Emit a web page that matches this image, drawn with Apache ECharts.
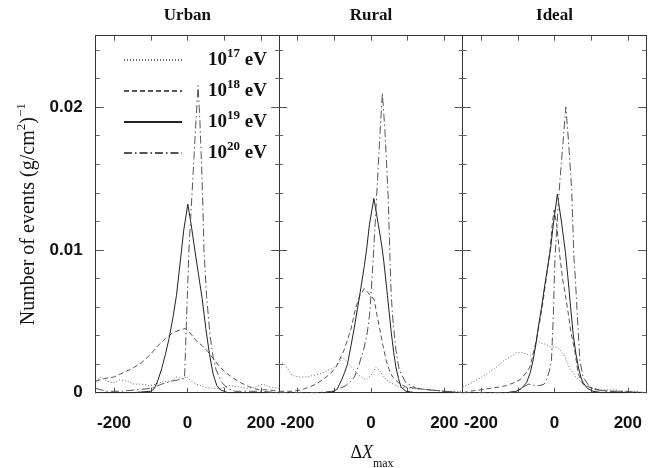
<!DOCTYPE html>
<html><head><meta charset="utf-8">
<script src="https://cdn.jsdelivr.net/npm/echarts@6/dist/echarts.min.js"></script>
<style>html,body{margin:0;padding:0;background:#fff}#c{width:654px;height:468px}</style>
</head><body><div id="c"></div>
<script>
// ---------- data ----------
const panels = ['Urban', 'Rural', 'Ideal'];
const energies = ['17', '18', '19', '20'];
const xTickLabels = [-200, 0, 200];
const xTicks = [-200, -100, 0, 100, 200];
const yTickLabels = [0, 0.01, 0.02];
const yMinorTicks = [0.002, 0.004, 0.006, 0.008, 0.012, 0.014, 0.016, 0.018, 0.022, 0.024];

const urban17 = [[-250,0.0008],[-235,0.0011],[-220,0.0008],[-200,0.0007],[-185,0.0009],[-165,0.0008],[-145,0.0006],[-125,0.0006],[-105,0.0005],[-85,0.0006],[-65,0.0008],[-45,0.0008],[-30,0.0011],[-15,0.0010],[0,0.0011],[10,0.0008],[25,0.0006],[45,0.0004],[65,0.0003],[90,0.0003],[115,0.0005],[140,0.0004],[165,0.0003],[185,0.0004],[205,0.0006],[225,0.0004],[250,0.0003]];
const urban18 = [[-250,0.0008],[-225,0.0010],[-200,0.0011],[-175,0.0014],[-150,0.0017],[-125,0.0021],[-100,0.0027],[-80,0.0033],[-60,0.0038],[-40,0.0042],[-20,0.0044],[-5,0.0045],[10,0.0041],[25,0.0036],[40,0.0033],[55,0.0029],[70,0.0024],[85,0.0019],[100,0.0015],[120,0.0011],[145,0.0007],[170,0.0004],[195,0.0002],[220,0.0002],[250,0.0001]];
const urban19 = [[-250,0],[-150,0],[-100,0.0001],[-90,0.0003],[-80,0.0009],[-70,0.0017],[-60,0.0027],[-50,0.0038],[-40,0.0052],[-30,0.0068],[-20,0.0091],[-10,0.0114],[1,0.0132],[10,0.0118],[20,0.0100],[30,0.0083],[40,0.0066],[50,0.0045],[60,0.0027],[70,0.0013],[80,0.0005],[90,0.0002],[110,0],[250,0]];
const urban20 = [[-250,0.0003],[-220,0.0001],[-180,0.0001],[-140,0.0002],[-100,0.0003],[-70,0.0006],[-45,0.0008],[-25,0.0009],[-8,0.0010],[-2,0.0055],[4,0.0100],[10,0.0128],[16,0.0156],[22,0.0185],[29,0.0215],[34,0.0190],[39,0.0156],[42,0.0130],[45,0.0100],[52,0.0068],[62,0.0039],[70,0.0025],[78,0.0016],[94,0.0007],[110,0.0003],[130,0.0001],[200,0.0001],[250,0]];

const rural17 = [[-250,0.0020],[-240,0.0021],[-228,0.0017],[-214,0.0012],[-195,0.0011],[-177,0.0011],[-160,0.0012],[-141,0.0013],[-123,0.0015],[-105,0.0017],[-90,0.0020],[-77,0.0025],[-63,0.0021],[-50,0.0017],[-32,0.0012],[-14,0.0009],[0,0.0012],[14,0.0018],[25,0.0015],[41,0.0009],[60,0.0006],[77,0.0004],[110,0.0003],[159,0.0002],[200,0.0001],[250,0.0001]];
const rural18 = [[-250,0.0001],[-214,0.0001],[-190,0.0002],[-168,0.0004],[-150,0.0006],[-132,0.0009],[-112,0.0013],[-95,0.0018],[-84,0.0024],[-73,0.0030],[-64,0.0037],[-55,0.0044],[-48,0.0052],[-41,0.0060],[-30,0.0068],[-18,0.0073],[-8,0.0070],[0,0.0068],[9,0.0065],[16,0.0055],[23,0.0046],[32,0.0034],[41,0.0023],[50,0.0016],[59,0.0011],[75,0.0007],[95,0.0004],[125,0.0003],[159,0.0002],[200,0.0001],[250,0]];
const rural19 = [[-250,0],[-120,0],[-100,0.0001],[-91,0.0003],[-80,0.0009],[-72,0.0014],[-64,0.0020],[-55,0.0032],[-45,0.0046],[-36,0.0060],[-27,0.0074],[-18,0.0089],[-12,0.0100],[-4,0.0118],[8,0.0136],[20,0.0118],[30,0.0102],[35,0.0092],[45,0.0068],[55,0.0043],[62,0.0028],[68,0.0018],[75,0.0010],[82,0.0004],[95,0.0001],[120,0],[250,0]];
const rural20 = [[-250,0],[-150,0],[-105,0.0001],[-85,0.0003],[-68,0.0005],[-55,0.0008],[-45,0.0011],[-32,0.0020],[-18,0.0032],[-10,0.0042],[-4,0.0054],[0,0.0068],[6,0.0093],[12,0.0121],[18,0.0150],[24,0.0178],[31,0.0210],[38,0.0184],[47,0.0137],[52,0.0093],[55,0.0070],[59,0.0053],[68,0.0030],[77,0.0016],[95,0.0007],[125,0.0003],[159,0.0002],[200,0.0001],[250,0]];

const ideal17 = [[-250,0.0004],[-225,0.0007],[-204,0.0010],[-180,0.0014],[-158,0.0018],[-140,0.0022],[-122,0.0025],[-105,0.0028],[-90,0.0028],[-75,0.0027],[-62,0.0026],[-54,0.0030],[-48,0.0037],[-38,0.0035],[-25,0.0034],[-10,0.0032],[3,0.0032],[12,0.0031],[25,0.0027],[40,0.0018],[55,0.0012],[70,0.0008],[90,0.0004],[125,0.0002],[160,0.0002],[190,0.0001],[220,0.0001],[250,0]];
const ideal18 = [[-250,0],[-231,0.0001],[-200,0.0002],[-176,0.0003],[-150,0.0004],[-131,0.0005],[-110,0.0007],[-94,0.0009],[-80,0.0013],[-67,0.0018],[-58,0.0027],[-49,0.0037],[-40,0.0050],[-31,0.0064],[-24,0.0077],[-17,0.0090],[-12,0.0100],[-6,0.0118],[-1,0.0128],[6,0.0118],[15,0.0095],[22,0.0080],[30,0.0068],[38,0.0055],[45,0.0042],[55,0.0030],[65,0.0013],[78,0.0006],[95,0.0004],[115,0.0002],[150,0.0001],[250,0]];
const ideal19 = [[-250,0],[-130,0],[-104,0.0001],[-90,0.0003],[-76,0.0007],[-66,0.0014],[-58,0.0023],[-50,0.0035],[-45,0.0044],[-35,0.0060],[-26,0.0076],[-18,0.0089],[-11,0.0100],[-4,0.0116],[8,0.0139],[20,0.0118],[30,0.0098],[37,0.0080],[44,0.0060],[51,0.0041],[58,0.0028],[65,0.0018],[72,0.0011],[78,0.0007],[90,0.0003],[105,0.0001],[130,0],[250,0]];
const ideal20 = [[-250,0],[-130,0],[-100,0.0001],[-85,0.0004],[-70,0.0006],[-55,0.0005],[-40,0.0005],[-28,0.0006],[-22,0.0009],[-14,0.0015],[-8,0.0023],[-3,0.0055],[1.5,0.0095],[13,0.0142],[22,0.0171],[31,0.0200],[38,0.0177],[47,0.0142],[53,0.0095],[57,0.0080],[60,0.0065],[65,0.0042],[69,0.0023],[78,0.0011],[96,0.0004],[133,0.0001],[180,0.0001],[250,0]];

const panelSeries = [
  [urban17, urban18, urban19, urban20],
  [rural17, rural18, rural19, rural20],
  [ideal17, ideal18, ideal19, ideal20]
];

// ---------- layout / style ----------
const gridLeft = [95.7, 279.2, 462.7];
const gridW = 183.5, gridTop = 35.7, gridH = 357;
const styles = [
  {type: [1, 2], color: '#6a6a6a'},
  {type: [5, 3], color: '#555'},
  {type: 'solid', color: '#222'},
  {type: [8, 3, 1.5, 3], color: '#555'}
];
const serif = 'Liberation Serif';
const sans = 'Liberation Sans';
const axisColor = '#333';
const nameOf = e => '10^' + e + ' eV';

const grid = [], xAxis = [], yAxis = [], series = [];
panels.forEach((p, i) => {
  grid.push({left: gridLeft[i], top: gridTop, width: gridW, height: gridH, containLabel: false});
  const xBase = {gridIndex: i, type: 'value', min: -250, max: 250, splitLine: {show: false},
    axisLine: {show: true, onZero: false, lineStyle: {color: axisColor, width: 1}}};
  xAxis.push(Object.assign({}, xBase, {position: 'bottom',
    axisTick: {inside: true, length: 5, customValues: xTicks, lineStyle: {color: '#555'}},
    axisLabel: {customValues: xTickLabels, margin: 22, fontFamily: sans, fontWeight: 'bold', fontSize: 17, color: '#111'}}));
  xAxis.push(Object.assign({}, xBase, {position: 'top',
    axisTick: {inside: true, length: 5, customValues: xTicks, lineStyle: {color: '#555'}},
    axisLabel: {show: false}}));
  const yBase = {gridIndex: i, type: 'value', min: 0, max: 0.025, splitLine: {show: false},
    axisLine: {show: true, onZero: false, lineStyle: {color: axisColor, width: 1}}};
  ['left', 'right'].forEach(pos => {
    const major = Object.assign({}, yBase, {position: pos,
      axisTick: {inside: true, length: 8, customValues: yTickLabels, lineStyle: {color: '#555'}},
      axisLabel: (i === 0 && pos === 'left') ?
        {customValues: yTickLabels, margin: 13, fontFamily: sans, fontWeight: 'bold', fontSize: 17, color: '#111'} :
        {show: false}});
    if (i === 0 && pos === 'left') {
      major.name = '{t|Number of events (g/cm}{s|2}{t|)}{s|\u22121}';
      major.nameLocation = 'middle';
      major.nameRotate = 90;
      major.nameGap = 53;
      major.nameTextStyle = {rich: {
        t: {fontFamily: serif, fontSize: 20, color: '#111', lineHeight: 28},
        s: {fontFamily: serif, fontSize: 13, color: '#111', verticalAlign: 'top', lineHeight: 14}
      }};
    }
    yAxis.push(major);
    yAxis.push(Object.assign({}, yBase, {position: pos,
      axisTick: {inside: true, length: 4, customValues: yMinorTicks, lineStyle: {color: '#666'}},
      axisLabel: {show: false}}));
  });
  panelSeries[i].forEach((d, k) => {
    series.push({type: 'line', name: nameOf(energies[k]), xAxisIndex: i * 2, yAxisIndex: i * 4,
      data: d, showSymbol: false, symbol: 'none', silent: true, z: 3,
      lineStyle: {width: 1, type: styles[k].type, color: styles[k].color},
      itemStyle: {color: styles[k].color}});
  });
});

const graphic = panels.map((p, i) => ({
  type: 'text', x: gridLeft[i] + gridW / 2, y: 16,
  style: {text: p, fontFamily: serif, fontWeight: 'bold', fontSize: 17, fill: '#111', textAlign: 'center', textVerticalAlign: 'middle'}
}));
graphic.push({
  type: 'text', x: 372, y: 453,
  style: {
    text: '{d|\u0394}{x|X}{m|max}', textAlign: 'center', textVerticalAlign: 'middle',
    rich: {
      d: {fontFamily: serif, fontSize: 18, fill: '#111'},
      x: {fontFamily: serif, fontStyle: 'italic', fontSize: 18, fill: '#111'},
      m: {fontFamily: serif, fontSize: 12, fill: '#111', verticalAlign: 'bottom', padding: [0, 0, -8, 0]}
    }
  }
});

const chart = echarts.init(document.getElementById('c'), null, {renderer: 'canvas'});
chart.setOption({
  animation: false,
  backgroundColor: '#fff',
  grid, xAxis, yAxis, series, graphic,
  legend: {
    data: energies.map(nameOf), orient: 'vertical', left: 123, top: 47, padding: 0,
    itemWidth: 58, itemHeight: 14, itemGap: 8.5, selectedMode: false,
    itemStyle: {opacity: 0},
    formatter: name => {
      const e = name.slice(3, 5);
      return '{a|10}{s|' + e + '}{b| eV}';
    },
    textStyle: {
      rich: {
        a: {fontFamily: serif, fontWeight: 'bold', fontSize: 19, color: '#111', padding: [0, 0, 0, 21], lineHeight: 26},
        s: {fontFamily: serif, fontWeight: 'bold', fontSize: 13, color: '#111', verticalAlign: 'top', lineHeight: 12},
        b: {fontFamily: serif, fontWeight: 'bold', fontSize: 19, color: '#111', lineHeight: 26}
      }
    }
  }
});
</script>
</body></html>
